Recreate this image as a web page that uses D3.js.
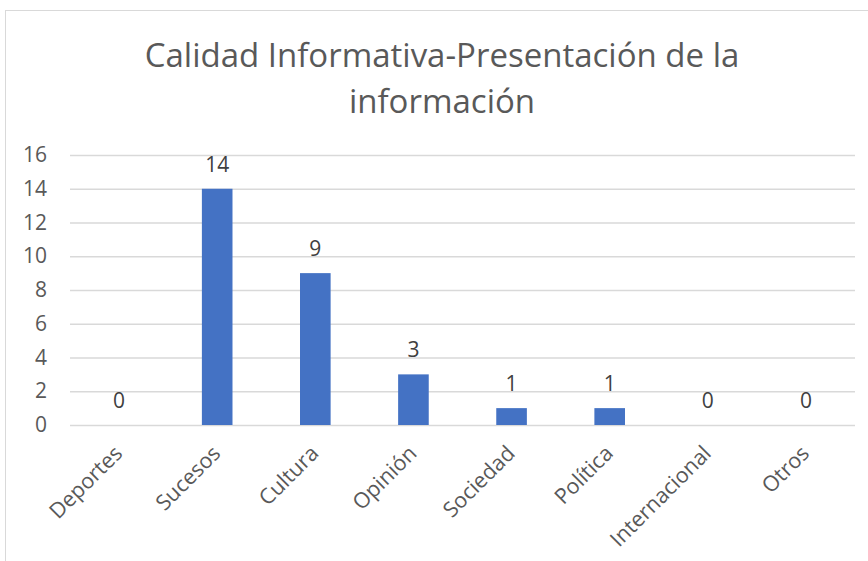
<!DOCTYPE html>
<html>
<head>
<meta charset="utf-8">
<script src="https://cdn.jsdelivr.net/npm/d3@7"></script>
<style>
  body { margin: 0; background: #fff; }
  text { font-family: "Open Sans", sans-serif; fill: #595959; }
</style>
</head>
<body>
<div class="customChart"></div>
<script>
const categories = ["Deportes", "Sucesos", "Cultura", "Opinión", "Sociedad", "Política", "Internacional", "Otros"];
const values = [0, 14, 9, 3, 1, 1, 0, 0];
const yTicks = [0, 2, 4, 6, 8, 10, 12, 14, 16];
const titleLines = ["Calidad Informativa-Presentación de la", "información"];

const W = 868, H = 561;
const margin = ({top: 155, right: 13, bottom: 136, left: 70});
const width = W - margin.left - margin.right;
const height = H - margin.top - margin.bottom;

const root = d3.select('.customChart')
  .append('svg')
  .attr('width', W)
  .attr('height', H);

// chart frame (runs off the right and bottom edge)
root.append("rect")
  .attr("x", 5.5).attr("y", 10.5)
  .attr("width", 1000).attr("height", 1000)
  .attr("fill", "none")
  .attr("stroke", "#d9d9d9")
  .attr("stroke-width", 1);

root.append("g")
  .selectAll("text")
  .data(titleLines)
  .join("text")
  .attr("x", 442)
  .attr("y", (d, i) => 67 + i * 46)
  .attr("text-anchor", "middle")
  .attr("font-size", 33)
  .text(d => d);

const svg = root.append("g")
  .attr("transform", `translate(${margin.left},${margin.top})`);

const xScale = d3.scaleBand()
  .domain(categories)
  .range([0, width])
  .paddingInner(0.688)
  .paddingOuter(0.344);

const yScale = d3.scaleLinear()
  .domain([0, 16])
  .range([height, 0]);

// gridlines + y labels
const yAxis = d3.axisLeft(yScale)
  .tickValues(yTicks)
  .tickSize(-width)
  .tickPadding(23);

const leftAxis = svg.append("g")
  .attr("class", "axis y-axis")
  .call(yAxis);
leftAxis.select(".domain").remove();
leftAxis.selectAll(".tick line")
  .attr("stroke", "#d9d9d9")
  .attr("stroke-width", 1.5);
leftAxis.selectAll(".tick text")
  .attr("font-size", 21)
  .attr("fill", "#595959")
  .attr("font-family", "Open Sans, sans-serif");

// bars
svg.append("g")
  .attr("fill", "#4472c4")
  .selectAll("rect")
  .data(values)
  .join("rect")
  .attr("x", (d, i) => xScale(categories[i]))
  .attr("y", d => yScale(d))
  .attr("width", xScale.bandwidth())
  .attr("height", d => height - yScale(d));

// value labels
svg.append("g")
  .selectAll("text")
  .data(values)
  .join("text")
  .attr("x", (d, i) => xScale(categories[i]) + xScale.bandwidth() / 2)
  .attr("y", d => yScale(d) - 17)
  .attr("text-anchor", "middle")
  .attr("font-size", 21)
  .style("fill", "#404040")
  .text(d => d);

// category labels, rotated
svg.append("g")
  .selectAll("text")
  .data(categories)
  .join("text")
  .attr("transform", d => `translate(${xScale(d) + xScale.bandwidth() / 2 - 6},${height + 19}) rotate(-45)`)
  .attr("text-anchor", "end")
  .attr("dy", "0.7em")
  .attr("font-size", 21.5)
  .text(d => d);
</script>
</body>
</html>
